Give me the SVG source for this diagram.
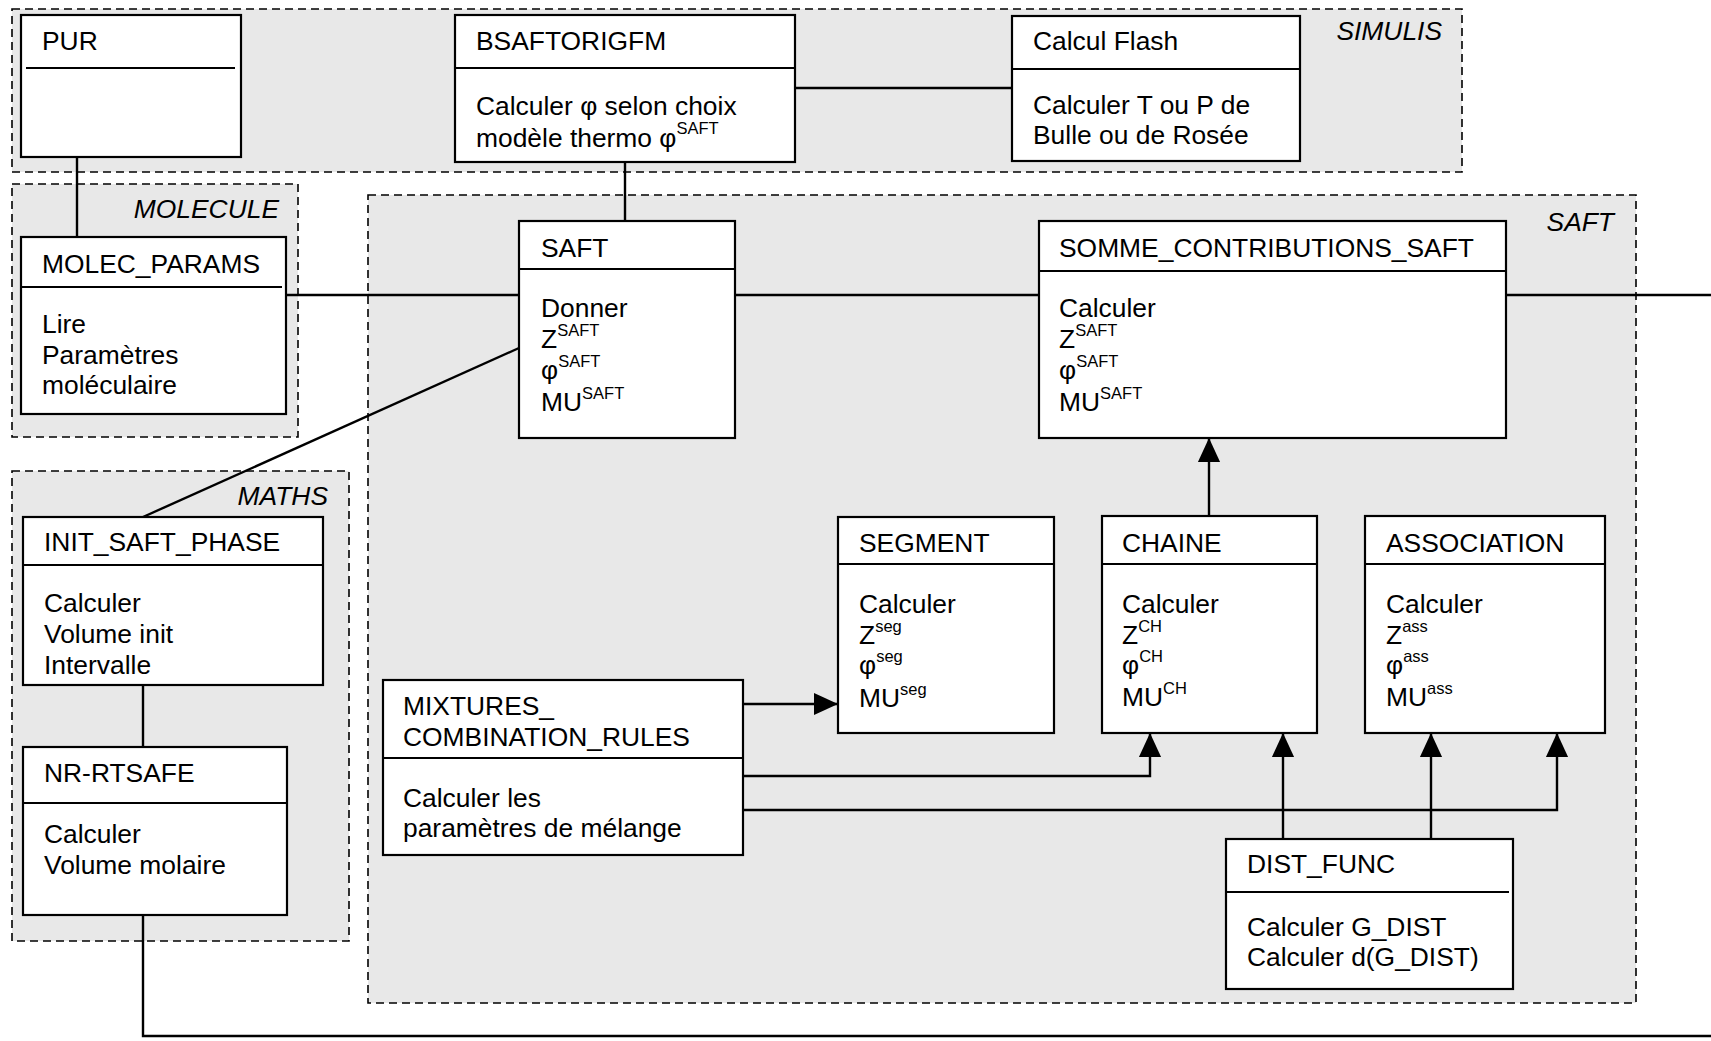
<svg xmlns="http://www.w3.org/2000/svg" width="1711" height="1041" viewBox="0 0 1711 1041">
<style>
text{font-family:"Liberation Sans",Arial,sans-serif;font-size:26.4px;fill:#000}
.grp{fill:#e8e8e8;stroke:#000;stroke-width:1.6;stroke-dasharray:8 5}
.glabel{font-style:italic;text-anchor:end}
.box{fill:#fff;stroke:#000;stroke-width:2.2}
.div{stroke:#000;stroke-width:2.2}
.sup{font-size:16.5px}
.conn line,.conn polyline{fill:none;stroke:#000;stroke-width:2.4}
</style>
<defs>
<marker id="arr" markerUnits="userSpaceOnUse" markerWidth="24" markerHeight="26" refX="26" refY="12" viewBox="0 0 26 24" orient="auto">
<path d="M0,0 L26,12 L0,24 Z" fill="#000"/>
</marker>
</defs>
<g id="groups">
<g id="grp-simulis"><rect class="grp" x="12" y="9" width="1450" height="163"/><text class="glabel" x="1442" y="40">SIMULIS</text></g>
<g id="grp-molecule"><rect class="grp" x="12" y="184" width="286" height="253"/><text class="glabel" x="279" y="218">MOLECULE</text></g>
<g id="grp-maths"><rect class="grp" x="12" y="471" width="337" height="470"/><text class="glabel" x="328" y="505">MATHS</text></g>
<g id="grp-saft"><rect class="grp" x="368" y="195" width="1268" height="808"/><text class="glabel" x="1614" y="231">SAFT</text></g>
</g>
<g id="connectors" class="conn">
<line x1="77" y1="157" x2="77" y2="237"/>
<line x1="625" y1="162" x2="625" y2="221"/>
<line x1="795" y1="88" x2="1012" y2="88"/>
<line x1="286" y1="295" x2="519" y2="295"/>
<line x1="735" y1="295" x2="1039" y2="295"/>
<line x1="1506" y1="295" x2="1711" y2="295"/>
<line x1="519" y1="348" x2="143" y2="517"/>
<line x1="143" y1="685" x2="143" y2="747"/>
<polyline points="143,915 143,1036 1711,1036"/>
<line x1="1209" y1="516" x2="1209" y2="438" marker-end="url(#arr)"/>
<line x1="743" y1="704" x2="838" y2="704" marker-end="url(#arr)"/>
<polyline points="743,776 1150,776 1150,733" marker-end="url(#arr)"/>
<polyline points="743,810 1557,810 1557,733" marker-end="url(#arr)"/>
<line x1="1283" y1="839" x2="1283" y2="733" marker-end="url(#arr)"/>
<line x1="1431" y1="839" x2="1431" y2="733" marker-end="url(#arr)"/>
</g>
<g id="node-pur">
<rect class="box" x="21" y="15" width="220" height="142"/>
<line class="div" x1="26" y1="68" x2="235" y2="68"/>
<text x="42" y="50">PUR</text>
</g>
<g id="node-bsaftorigfm">
<rect class="box" x="455" y="15" width="340" height="147"/>
<line class="div" x1="455" y1="68" x2="795" y2="68"/>
<text x="476" y="50">BSAFTORIGFM</text>
<text x="476" y="115">Calculer φ selon choix</text>
<text x="476" y="147">modèle thermo φ<tspan class="sup" dy="-13">SAFT</tspan></text>
</g>
<g id="node-calculflash">
<rect class="box" x="1012" y="16" width="288" height="145"/>
<line class="div" x1="1012" y1="69" x2="1300" y2="69"/>
<text x="1033" y="50">Calcul Flash</text>
<text x="1033" y="114">Calculer T ou P de</text>
<text x="1033" y="144">Bulle ou de Rosée</text>
</g>
<g id="node-molec-params">
<rect class="box" x="21" y="237" width="265" height="177"/>
<line class="div" x1="21" y1="287" x2="282" y2="287"/>
<text x="42" y="273">MOLEC_PARAMS</text>
<text x="42" y="333">Lire</text>
<text x="42" y="364">Paramètres</text>
<text x="42" y="394">moléculaire</text>
</g>
<g id="node-saft">
<rect class="box" x="519" y="221" width="216" height="217"/>
<line class="div" x1="519" y1="269" x2="735" y2="269"/>
<text x="541" y="317">Donner</text>
<text x="541" y="257">SAFT</text>
<text x="541" y="348">Z<tspan class="sup" dy="-12">SAFT</tspan></text>
<text x="541" y="379">φ<tspan class="sup" dy="-12">SAFT</tspan></text>
<text x="541" y="411">MU<tspan class="sup" dy="-12">SAFT</tspan></text>
</g>
<g id="node-somme">
<rect class="box" x="1039" y="221" width="467" height="217"/>
<line class="div" x1="1039" y1="271" x2="1506" y2="271"/>
<text x="1059" y="257">SOMME_CONTRIBUTIONS_SAFT</text>
<text x="1059" y="317">Calculer</text>
<text x="1059" y="348">Z<tspan class="sup" dy="-12">SAFT</tspan></text>
<text x="1059" y="379">φ<tspan class="sup" dy="-12">SAFT</tspan></text>
<text x="1059" y="411">MU<tspan class="sup" dy="-12">SAFT</tspan></text>
</g>
<g id="node-init-saft-phase">
<rect class="box" x="23" y="517" width="300" height="168"/>
<line class="div" x1="23" y1="565" x2="323" y2="565"/>
<text x="44" y="551">INIT_SAFT_PHASE</text>
<text x="44" y="612">Calculer</text>
<text x="44" y="643">Volume init</text>
<text x="44" y="674">Intervalle</text>
</g>
<g id="node-nr-rtsafe">
<rect class="box" x="23" y="747" width="264" height="168"/>
<line class="div" x1="23" y1="803" x2="287" y2="803"/>
<text x="44" y="782">NR-RTSAFE</text>
<text x="44" y="843">Calculer</text>
<text x="44" y="874">Volume molaire</text>
</g>
<g id="node-segment">
<rect class="box" x="838" y="517" width="216" height="216"/>
<line class="div" x1="838" y1="564" x2="1054" y2="564"/>
<text x="859" y="552">SEGMENT</text>
<text x="859" y="613">Calculer</text>
<text x="859" y="644">Z<tspan class="sup" dy="-12">seg</tspan></text>
<text x="859" y="674">φ<tspan class="sup" dy="-12">seg</tspan></text>
<text x="859" y="707">MU<tspan class="sup" dy="-12">seg</tspan></text>
</g>
<g id="node-chaine">
<rect class="box" x="1102" y="516" width="215" height="217"/>
<line class="div" x1="1102" y1="564" x2="1317" y2="564"/>
<text x="1122" y="552">CHAINE</text>
<text x="1122" y="613">Calculer</text>
<text x="1122" y="644">Z<tspan class="sup" dy="-12">CH</tspan></text>
<text x="1122" y="674">φ<tspan class="sup" dy="-12">CH</tspan></text>
<text x="1122" y="706">MU<tspan class="sup" dy="-12">CH</tspan></text>
</g>
<g id="node-association">
<rect class="box" x="1365" y="516" width="240" height="217"/>
<line class="div" x1="1365" y1="564" x2="1605" y2="564"/>
<text x="1386" y="552">ASSOCIATION</text>
<text x="1386" y="613">Calculer</text>
<text x="1386" y="644">Z<tspan class="sup" dy="-12">ass</tspan></text>
<text x="1386" y="674">φ<tspan class="sup" dy="-12">ass</tspan></text>
<text x="1386" y="706">MU<tspan class="sup" dy="-12">ass</tspan></text>
</g>
<g id="node-mixtures">
<rect class="box" x="383" y="680" width="360" height="175"/>
<line class="div" x1="383" y1="758" x2="743" y2="758"/>
<text x="403" y="715">MIXTURES_</text>
<text x="403" y="746">COMBINATION_RULES</text>
<text x="403" y="807">Calculer les</text>
<text x="403" y="837">paramètres de mélange</text>
</g>
<g id="node-dist-func">
<rect class="box" x="1226" y="839" width="287" height="150"/>
<line class="div" x1="1226" y1="892" x2="1509" y2="892"/>
<text x="1247" y="873">DIST_FUNC</text>
<text x="1247" y="936">Calculer G_DIST</text>
<text x="1247" y="966">Calculer d(G_DIST)</text>
</g>
</svg>
